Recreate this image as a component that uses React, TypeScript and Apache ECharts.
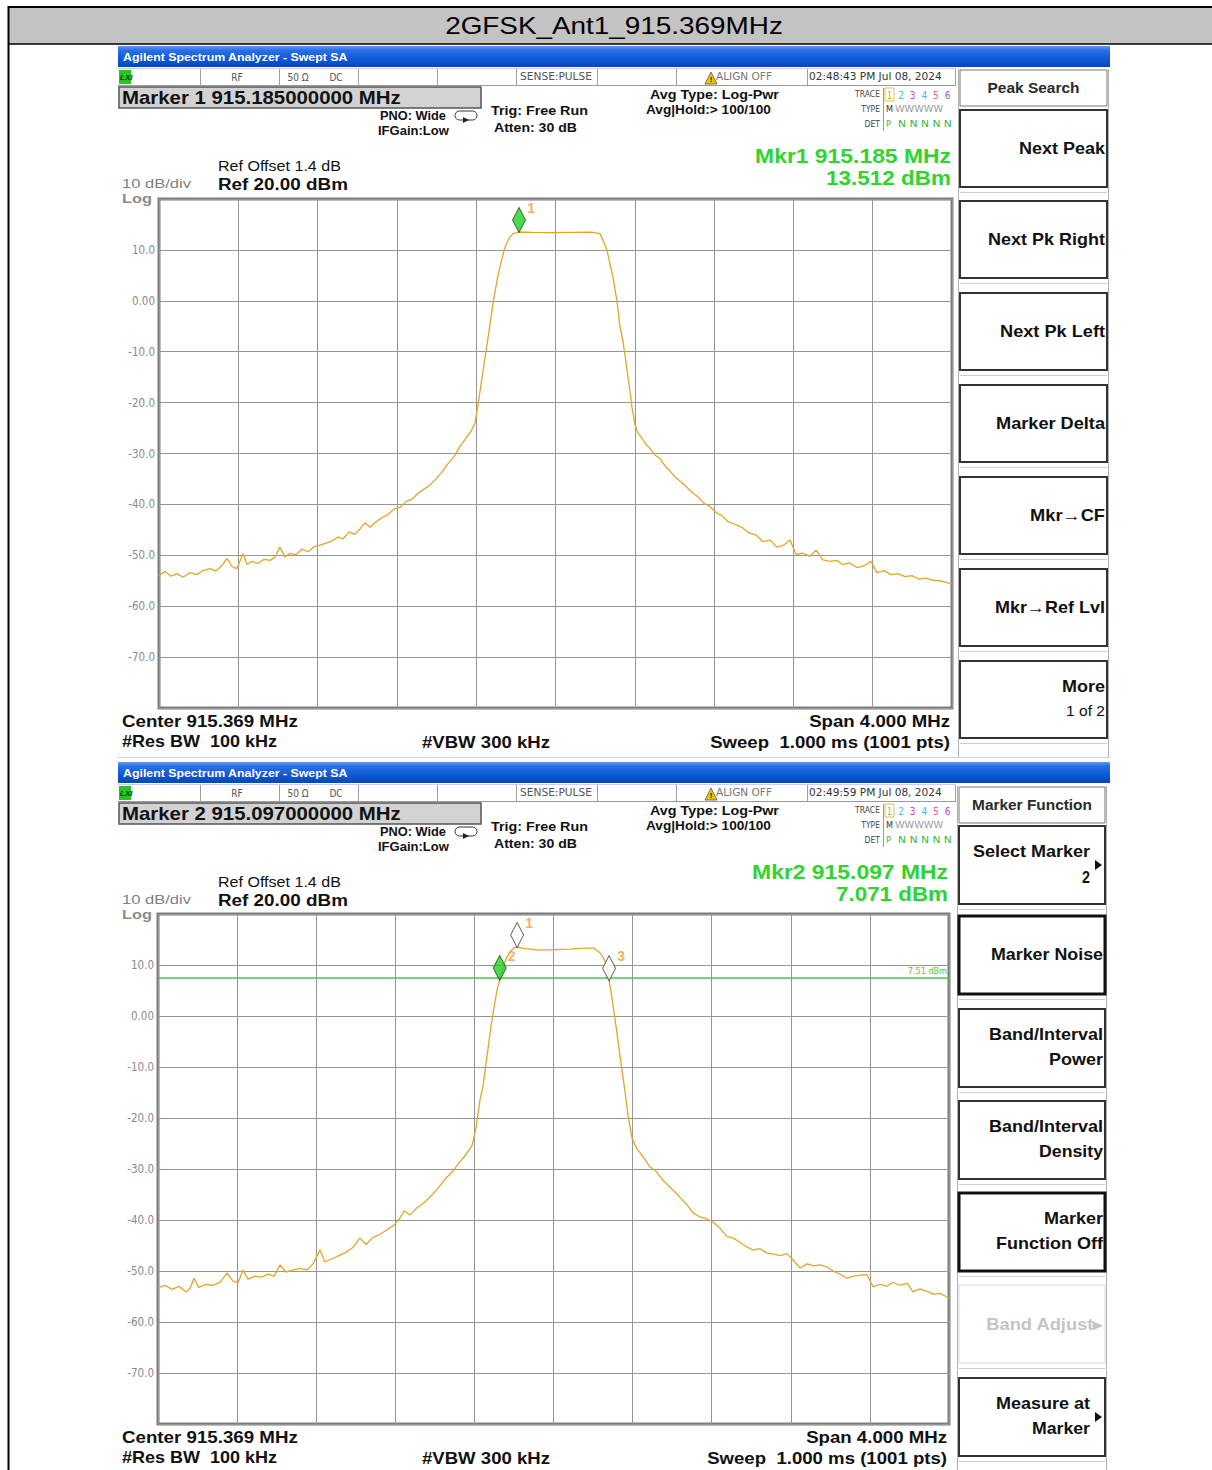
import React, { useEffect, useRef } from "react";
import * as echarts from "echarts";

// ---------------- DATA ----------------
const TITLE = "2GFSK_Ant1_915.369MHz";
const CENTER_MHZ = 915.369;
const SPAN_MHZ = 4;
const REF_DBM = 20;
const DB_PER_DIV = 10;
const DIVS = 10;

const yTickValues = [10, 0, -10, -20, -30, -40, -50, -60, -70];
const yTickLabels = ["10.0", "0.00", "-10.0", "-20.0", "-30.0", "-40.0", "-50.0", "-60.0", "-70.0"];

// Screen 1 trace (MHz, dBm)
const trace1Freq = [
  913.369, 913.399, 913.43, 913.46, 913.49, 913.525, 913.561, 913.591, 913.626, 913.657,
  913.687, 913.712, 913.737, 913.762, 913.793, 913.813, 913.838, 913.868, 913.899, 913.929,
  913.954, 913.979, 914.005, 914.03, 914.06, 914.09, 914.121, 914.151, 914.181, 914.211,
  914.242, 914.272, 914.297, 914.327, 914.358, 914.383, 914.408, 914.434, 914.464, 914.494,
  914.524, 914.555, 914.585, 914.615, 914.645, 914.676, 914.706, 914.736, 914.766, 914.797,
  914.827, 914.857, 914.887, 914.918, 914.943, 914.963, 914.978, 914.993, 915.008, 915.024,
  915.039, 915.054, 915.074, 915.094, 915.114, 915.135, 915.155, 915.185, 915.25, 915.35,
  915.45, 915.55, 915.593, 915.613, 915.629, 915.644, 915.659, 915.679, 915.694, 915.709,
  915.724, 915.74, 915.755, 915.77, 915.785, 915.805, 915.825, 915.846, 915.871, 915.896,
  915.921, 915.946, 915.971, 915.997, 916.027, 916.057, 916.087, 916.118, 916.148, 916.178,
  916.209, 916.239, 916.274, 916.309, 916.345, 916.38, 916.415, 916.451, 916.486, 916.521,
  916.552, 916.582, 916.617, 916.652, 916.683, 916.718, 916.753, 916.788, 916.819, 916.854,
  916.889, 916.925, 916.96, 916.99, 917.026, 917.061, 917.096, 917.132, 917.167, 917.202,
  917.237, 917.273, 917.308, 917.338, 917.369,
];
const trace1Level = [
  -54.0, -53.2, -54.1, -53.6, -54.3, -53.4, -53.8, -53.0, -52.6, -53.1,
  -52.0, -50.6, -52.2, -52.6, -49.7, -51.8, -51.2, -51.6, -50.8, -51.0,
  -50.4, -48.4, -50.3, -49.6, -49.9, -48.8, -49.3, -48.3, -48.0, -47.6,
  -47.2, -46.4, -46.8, -45.4, -45.9, -44.8, -43.6, -44.5, -43.4, -42.6,
  -42.0, -40.9, -40.6, -39.4, -39.0, -37.8, -37.0, -36.2, -35.0, -33.6,
  -32.0, -30.6, -28.6, -27.0, -25.6, -24.0, -20.5, -16.5, -12.5, -8.5,
  -4.5, -0.5, 4.0, 7.5, 10.5, 12.3, 13.2, 13.512, 13.45, 13.4,
  13.45, 13.5, 13.2, 11.5, 9.9, 7.2, 4.6, 0.0, -5.0, -7.8,
  -12.0, -16.5, -21.0, -24.3, -26.0, -27.0, -28.2, -29.0, -30.3, -31.0,
  -32.4, -33.4, -34.6, -35.4, -36.5, -37.6, -38.5, -39.8, -40.4, -41.6,
  -42.2, -43.4, -43.9, -44.5, -45.6, -46.0, -47.3, -47.0, -48.4, -48.0,
  -47.0, -49.8, -49.6, -50.2, -49.0, -50.9, -51.2, -51.0, -51.8, -51.5,
  -52.4, -52.1, -51.2, -53.4, -53.0, -53.8, -53.6, -54.2, -54.0, -54.7,
  -54.5, -54.9, -55.0, -55.3, -55.6,
];

// Screen 2 trace (MHz, dBm)
const trace2Freq = [
  913.369, 913.404, 913.44, 913.475, 913.511, 913.531, 913.551, 913.576, 913.612, 913.647,
  913.683, 913.718, 913.748, 913.774, 913.799, 913.824, 913.86, 913.895, 913.925, 913.956,
  913.986, 914.016, 914.052, 914.087, 914.122, 914.153, 914.188, 914.213, 914.249, 914.284,
  914.32, 914.355, 914.39, 914.421, 914.456, 914.492, 914.527, 914.562, 914.593, 914.613,
  914.643, 914.679, 914.714, 914.749, 914.785, 914.82, 914.856, 914.891, 914.926, 914.957,
  914.977, 914.997, 915.012, 915.027, 915.037, 915.053, 915.068, 915.083, 915.097, 915.114,
  915.134, 915.154, 915.17, 915.185, 915.225, 915.301, 915.377, 915.452, 915.528, 915.574,
  915.604, 915.624, 915.64, 915.65, 915.665, 915.685, 915.706, 915.726, 915.746, 915.766,
  915.791, 915.822, 915.857, 915.887, 915.918, 915.948, 915.984, 916.014, 916.044, 916.075,
  916.11, 916.145, 916.176, 916.211, 916.246, 916.282, 916.312, 916.348, 916.378, 916.413,
  916.449, 916.484, 916.514, 916.55, 916.58, 916.615, 916.651, 916.686, 916.716, 916.752,
  916.787, 916.817, 916.853, 916.888, 916.918, 916.954, 916.985, 917.02, 917.055, 917.086,
  917.121, 917.157, 917.187, 917.222, 917.258, 917.293, 917.324, 917.359, 917.369,
];
const trace2Level = [
  -53.3, -52.8, -53.6, -53.0, -54.1, -53.4, -51.4, -53.2, -52.6, -52.8,
  -52.2, -50.4, -52.0, -52.3, -49.8, -51.6, -51.0, -51.2, -50.6, -51.0,
  -48.8, -50.2, -49.8, -49.5, -49.8, -48.6, -45.9, -48.2, -47.6, -47.0,
  -46.3, -45.4, -43.5, -44.8, -43.4, -42.8, -41.9, -41.0, -39.6, -38.2,
  -39.0, -37.6, -36.6, -35.3, -33.8, -32.0, -30.6, -28.8, -27.2, -25.4,
  -22.0, -16.5, -13.9, -9.5, -6.7, -2.0, 1.6, 5.0, 7.071, 9.5,
  11.6, 12.8, 13.4, 13.512, 13.2, 12.9, 13.0, 13.1, 13.3, 13.3,
  12.4, 11.2, 9.6, 7.0, 3.5, -2.0, -8.0, -13.5, -19.5, -24.0,
  -26.0, -27.6, -29.6, -30.4, -32.0, -33.2, -34.5, -35.8, -37.0, -38.6,
  -39.4, -39.8, -40.4, -41.6, -43.2, -43.6, -44.4, -45.3, -45.9, -45.6,
  -46.5, -46.7, -47.0, -46.6, -47.8, -49.4, -48.6, -49.0, -48.8, -49.2,
  -50.1, -50.6, -51.4, -51.0, -50.8, -50.7, -53.1, -52.6, -53.0, -52.2,
  -52.8, -52.4, -54.1, -53.5, -54.0, -54.6, -54.4, -55.1, -55.3,
];

const markerNames1 = ["1"];
const markerFreq1 = [915.185];
const markerLevel1 = [13.512];
const markerActive1 = [true];

const markerNames2 = ["1", "2", "3"];
const markerFreq2 = [915.185, 915.097, 915.65];
const markerLevel2 = [13.512, 7.071, 7.0];
const markerActive2 = [false, true, false];

const displayLineDbm = 7.51;

const header1 = {
  marker: "Marker 1 915.185000000 MHz",
  time: "02:48:43 PM Jul 08, 2024",
  mkr: "Mkr1 915.185 MHz",
  mkrVal: "13.512 dBm",
};
const header2 = {
  marker: "Marker 2 915.097000000 MHz",
  time: "02:49:59 PM Jul 08, 2024",
  mkr: "Mkr2 915.097 MHz",
  mkrVal: "7.071 dBm",
};

const softTitle1 = "Peak Search";
const softkeys1 = [["Next Peak"], ["Next Pk Right"], ["Next Pk Left"], ["Marker Delta"], ["Mkr\u2192CF"], ["Mkr\u2192Ref Lvl"], ["More", "1 of 2"]];
const softTitle2 = "Marker Function";
const softkeys2 = [["Select Marker", "2"], ["Marker Noise"], ["Band/Interval", "Power"], ["Band/Interval", "Density"], ["Marker", "Function Off"], ["Band Adjust\u25B8"], ["Measure at", "Marker"]];

// ---------------- LAYOUT / STYLE ----------------
const FONT = '"Liberation Sans", Arial, sans-serif';
const NARROW = '"Liberation Sans Narrow", "DejaVu Sans Condensed", "Liberation Sans", sans-serif';
const GREEN = "#2fd42f";
const TRACE = "#e2a62c";

// target rendered widths (px) of the texts in the reference
const W1: Record<string, number> = {
  title: 338, bar: 225, marker: 279, pno: 66, ifg: 71, trig: 97, atten: 83, avg: 129, hold: 125,
  mkr: 196, ref1: 123, ref2: 130, div: 69, log: 30, center: 176, res: 155, vbw: 128, span: 141, sweep: 240,
  sense: 72, align: 56, time: 133,
};
const SOFT_W: Record<string, number> = {
  "Peak Search": 92, "Next Peak": 86, "Next Pk Right": 117, "Next Pk Left": 105, "Marker Delta": 109,
  "Mkr\u2192CF": 75, "Mkr\u2192Ref Lvl": 110, "More": 43, "1 of 2": 39,
  "Marker Function": 120, "Select Marker": 117, "2": 8, "Marker Noise": 112, "Band/Interval": 114, "Power": 54,
  "Density": 64, "Marker": 59, "Function Off": 107, "Band Adjust\u25B8": 117, "Measure at": 94,
};

let measureCtx: CanvasRenderingContext2D | null = null;
function measure(text: string, font: string) {
  if (!measureCtx) measureCtx = document.createElement("canvas").getContext("2d");
  if (!measureCtx) return 0;
  measureCtx.font = font;
  return measureCtx.measureText(text).width;
}

const blueGrad = new echarts.graphic.LinearGradient(0, 0, 0, 1, [
  { offset: 0, color: "#5b9cf6" },
  { offset: 0.2, color: "#2b6fe6" },
  { offset: 0.65, color: "#0c57d8" },
  { offset: 1, color: "#0a46b6" },
]);

function txt(text: string, x: number, y: number, font: string, fill = "#000", align = "left", v = "middle", width?: number) {
  let sx = 1;
  if (width) {
    const m = measure(text, font);
    if (m > 0) sx = Math.max(0.8, Math.min(1.35, width / m));
  }
  return { type: "text", x, y, scaleX: sx, silent: true, style: { text, font, fill, textAlign: align, textVerticalAlign: v } };
}
function ln(x1: number, y1: number, x2: number, y2: number, stroke: string, lw = 1) {
  return { type: "line", silent: true, shape: { x1, y1, x2, y2 }, style: { stroke, lineWidth: lw } };
}
function rc(x: number, y: number, w: number, h: number, style: any, r = 0) {
  return { type: "rect", silent: true, shape: { x, y, width: w, height: h, r }, style };
}

function screenHeader(dy: number, h: any, right: number, mkrValW: number) {
  const e: any[] = [];
  e.push(rc(118, 46 + dy, 992, 21, { fill: blueGrad }));
  e.push(txt("Agilent Spectrum Analyzer - Swept SA", 123, 57 + dy, `bold 11px ${FONT}`, "#ffffff", "left", "middle", W1.bar));
  // status row
  e.push(ln(118, 68.5 + dy, 956, 68.5 + dy, "#cfcfcf", 1));
  e.push(ln(118, 85.5 + dy, 956, 85.5 + dy, "#9a9a9a", 1));
  [200, 279, 358, 437, 516, 597, 676, 807, 955].forEach((x) => e.push(ln(x + 0.5, 69 + dy, x + 0.5, 85 + dy, "#a0a0a0", 1)));
  e.push(rc(119, 70 + dy, 12, 14, { fill: "#27c427" }));
  e.push(txt("LXI", 120, 77 + dy, `italic bold 8px ${FONT}`, "#0a3a0a"));
  e.push(txt("RF", 237, 77 + dy, `10px ${NARROW}`, "#555", "center"));
  e.push(txt("50 \u03A9", 298, 77 + dy, `10px ${NARROW}`, "#555", "center"));
  e.push(txt("DC", 336, 77 + dy, `10px ${NARROW}`, "#555", "center"));
  e.push(txt("SENSE:PULSE", 556, 77 + dy, `10px ${NARROW}`, "#555", "center", "middle", W1.sense));
  e.push({ type: "polygon", silent: true, shape: { points: [[705, 84 + dy], [711, 72 + dy], [717, 84 + dy]] }, style: { fill: "#e8c800", stroke: "#555", lineWidth: 0.8 } });
  e.push(txt("!", 711, 79.5 + dy, `bold 8px ${FONT}`, "#222", "center"));
  e.push(txt("ALIGN OFF", 744, 77 + dy, `10px ${NARROW}`, "#777", "center", "middle", W1.align));
  e.push(txt(h.time, 809, 77 + dy, `10.5px ${NARROW}`, "#333", "left", "middle", W1.time));
  // marker box
  e.push(rc(119, 87 + dy, 362, 21, { fill: "#d2d2d2", stroke: "#555", lineWidth: 1.5 }));
  e.push(txt(h.marker, 122, 98 + dy, `bold 18px ${FONT}`, "#111", "left", "middle", W1.marker));
  e.push(txt("PNO: Wide", 380, 116 + dy, `bold 12px ${FONT}`, "#111", "left", "middle", W1.pno));
  e.push(txt("IFGain:Low", 378, 131 + dy, `bold 12px ${FONT}`, "#111", "left", "middle", W1.ifg));
  e.push(rc(455, 111 + dy, 22, 9, { fill: "none", stroke: "#333", lineWidth: 1 }, 4.5));
  e.push({ type: "polygon", silent: true, shape: { points: [[463, 117 + dy], [469, 120 + dy], [463, 123 + dy]] }, style: { fill: "#222" } });
  e.push(txt("Trig: Free Run", 491, 111 + dy, `bold 13px ${FONT}`, "#111", "left", "middle", W1.trig));
  e.push(txt("Atten: 30 dB", 494, 128 + dy, `bold 13px ${FONT}`, "#111", "left", "middle", W1.atten));
  e.push(txt("Avg Type: Log-Pwr", 650, 95 + dy, `bold 13px ${FONT}`, "#111", "left", "middle", W1.avg));
  e.push(txt("Avg|Hold:> 100/100", 646, 110 + dy, `bold 13px ${FONT}`, "#111", "left", "middle", W1.hold));
  // trace table
  e.push(txt("TRACE", 880, 94 + dy, `8.5px ${NARROW}`, "#444", "right"));
  e.push(txt("TYPE", 880, 109 + dy, `8.5px ${NARROW}`, "#444", "right"));
  e.push(txt("DET", 880, 124 + dy, `8.5px ${NARROW}`, "#444", "right"));
  e.push(ln(883.5, 88 + dy, 883.5, 131 + dy, "#999", 1));
  e.push(rc(885, 88 + dy, 9, 13, { fill: "none", stroke: "#c8b040", lineWidth: 0.8 }));
  const tc = ["#d9b600", "#3cc3d8", "#d040c0", "#48b8e8", "#ee5a8a", "#b050d8"];
  ["1", "2", "3", "4", "5", "6"].forEach((s, i) => e.push(txt(s, 889.5 + i * 11.6, 95 + dy, `10px ${NARROW}`, tc[i], "center")));
  e.push(txt("M", 886, 109 + dy, `9px ${NARROW}`, "#333"));
  e.push(txt("WWWWW", 895, 109 + dy, `8px ${NARROW}`, "#9a9a9a", "left", "middle", 57));
  e.push(txt("P", 886, 124 + dy, `9px ${NARROW}`, "#3cb83c"));
  e.push(txt("N N N N N", 898, 124 + dy, `9px ${NARROW}`, "#3cb83c", "left", "middle", 54));
  // marker readout
  e.push(txt(h.mkr, right, 156 + dy, `bold 20px ${FONT}`, GREEN, "right", "middle", W1.mkr));
  e.push(txt(h.mkrVal, right, 178 + dy, `bold 20px ${FONT}`, GREEN, "right", "middle", mkrValW));
  // ref
  e.push(txt("Ref Offset 1.4 dB", 218, 166 + dy, `14px ${FONT}`, "#111", "left", "middle", W1.ref1));
  e.push(txt("Ref 20.00 dBm", 218, 184 + dy, `bold 17px ${FONT}`, "#111", "left", "middle", W1.ref2));
  e.push(txt("10 dB/div", 122, 184 + dy, `13px ${FONT}`, "#808080", "left", "middle", W1.div));
  e.push(txt("Log", 122, 198.5 + dy, `bold 13px ${FONT}`, "#8a8a8a", "left", "middle", W1.log));
  // bottom
  e.push(txt("Center 915.369 MHz", 122, 721 + dy, `bold 16px ${FONT}`, "#111", "left", "middle", W1.center));
  e.push(txt("#Res BW  100 kHz", 122, 742 + dy, `bold 16px ${FONT}`, "#111", "left", "middle", W1.res));
  e.push(txt("#VBW 300 kHz", 422, 742 + dy, `bold 16px ${FONT}`, "#111", "left", "middle", W1.vbw));
  e.push(txt("Span 4.000 MHz", right - 1, 721 + dy, `bold 16px ${FONT}`, "#111", "right", "middle", W1.span));
  e.push(txt("Sweep  1.000 ms (1001 pts)", right - 1, 742 + dy, `bold 16px ${FONT}`, "#111", "right", "middle", W1.sweep));
  return e;
}

function softPanel(title: string, titleY: number, keys: string[][], tops: number[], h: number, heavy: boolean[], dim: boolean[], arrows: boolean[], xL: number, xR: number, panelTop: number, panelBot: number) {
  const e: any[] = [];
  e.push(ln(xL - 1.5, panelTop, xL - 1.5, panelBot, "#b0b0b0", 1));
  e.push(ln(xR + 1.5, panelTop, xR + 1.5, panelBot, "#b0b0b0", 1));
  e.push(rc(xL, panelTop + 1, xR - xL, titleY * 2 - 2 * (panelTop + 1), { fill: "#fff", stroke: "#777", lineWidth: 1 }));
  e.push(txt(title, (xL + xR) / 2, titleY, `bold 14px ${FONT}`, "#2a2a2a", "center", "middle", SOFT_W[title]));
  keys.forEach((lines, i) => {
    const t = tops[i];
    if (dim[i]) {
      e.push(rc(xL, t, xR - xL, h, { fill: "#fff", stroke: "#d8d8d8", lineWidth: 1 }));
    } else {
      e.push(rc(xL, t, xR - xL, h, { fill: "#fff", stroke: heavy[i] ? "#111" : "#333", lineWidth: heavy[i] ? 3 : 2 }));
    }
    e.push(ln(xL, t + h + 5.5, xR, t + h + 5.5, "#cfcfcf", 1));
    const rx = arrows[i] ? xR - 15 : xR - 2;
    const font = `bold 16px ${FONT}`;
    if (lines.length === 1) {
      e.push(txt(lines[0], rx, t + h / 2, font, dim[i] ? "#c4c4c4" : "#111", "right", "middle", SOFT_W[lines[0]]));
    } else {
      const second = lines[1];
      const smallSecond = second === "1 of 2";
      e.push(txt(lines[0], rx, t + h / 2 - 13, font, "#111", "right", "middle", SOFT_W[lines[0]]));
      const w2 = second === "Marker" ? 58 : SOFT_W[second];
      e.push(txt(second, rx, t + h / 2 + 12, smallSecond ? `14px ${FONT}` : font, "#111", "right", "middle", w2));
    }
    if (arrows[i]) {
      const ay = t + h / 2;
      e.push({ type: "polygon", silent: true, shape: { points: [[xR - 10, ay - 5], [xR - 3, ay], [xR - 10, ay + 5]] }, style: { fill: "#111" } });
    }
  });
  return e;
}

function buildGraphics() {
  const g: any[] = [];
  // outer table & title
  g.push(rc(8, 7, 1210, 37, { fill: "#c3c3c3" }));
  g.push(ln(8, 7, 1212, 7, "#000", 2));
  g.push(ln(8, 44, 1212, 44, "#000", 1.5));
  g.push(ln(8.5, 6, 8.5, 1470, "#000", 2));
  g.push(txt(TITLE, 614, 26, `24px ${FONT}`, "#000", "center", "middle", W1.title));

  g.push(...screenHeader(0, header1, 951, 125));
  g.push(...screenHeader(716, header2, 948, 112));
  g.push(ln(118, 757.5, 1110, 757.5, "#cfcfcf", 1));

  g.push(...softPanel(softTitle1, 88, softkeys1, [110, 201, 293, 385, 477, 569, 661], 77,
    [false, false, false, false, false, false, false], [false, false, false, false, false, false, false],
    [false, false, false, false, false, false, false], 960, 1107, 69, 757));
  g.push(...softPanel(softTitle2, 805, softkeys2, [826, 916, 1009, 1101, 1193, 1285, 1378], 78,
    [false, true, false, false, true, false, false], [false, false, false, false, false, true, false],
    [true, false, false, false, false, false, true], 959, 1105, 786, 1470));
  return g;
}

function yFmt(v: number) {
  const i = yTickValues.indexOf(Math.round(v));
  return i >= 0 ? yTickLabels[i] : "";
}

function markerData(names: string[], freqs: number[], levels: number[], active: boolean[]) {
  return names.map((n, i) => ({
    name: n,
    value: [freqs[i] - CENTER_MHZ, levels[i]],
    itemStyle: active[i]
      ? { color: "#1fd11f", borderColor: "#0b4d0b", borderWidth: 1 }
      : { color: "#ffffff", borderColor: "#333333", borderWidth: 1 },
  }));
}

function buildOption() {
  const half = SPAN_MHZ / 2;
  const div = SPAN_MHZ / DIVS;
  const grids = [
    { left: 159, top: 199, width: 793, height: 509 },
    { left: 158, top: 914, width: 791, height: 510 },
  ];
  const mkAxisX = (gi: number) => ({
    type: "value", gridIndex: gi, min: -half, max: half, interval: div,
    axisLine: { show: false }, axisTick: { show: false }, axisLabel: { show: false },
    splitLine: { show: true, lineStyle: { color: "#959595", width: 1 } },
  });
  const mkAxisY = (gi: number) => ({
    type: "value", gridIndex: gi, min: REF_DBM - DB_PER_DIV * DIVS, max: REF_DBM, interval: DB_PER_DIV,
    axisLine: { show: false }, axisTick: { show: false },
    axisLabel: { show: true, formatter: yFmt, color: "#8a8a8a", fontSize: 11.5, fontFamily: NARROW, margin: 4 },
    splitLine: { show: true, lineStyle: { color: "#959595", width: 1 } },
  });
  const markerSeries = (gi: number, data: any[]) => ({
    type: "scatter", xAxisIndex: gi, yAxisIndex: gi, z: 6,
    symbol: "diamond", symbolSize: [13, 25], symbolOffset: [0, -12],
    data,
    label: { show: true, formatter: "{b}", position: [15, -6], color: "#f0a030", fontSize: 14, fontWeight: "bold", fontFamily: FONT },
  });
  return {
    animation: false,
    backgroundColor: "#ffffff",
    grid: grids.map((g) => ({ ...g, show: true, borderColor: "#7c7c7c", borderWidth: 3, backgroundColor: "#ffffff" })),
    xAxis: [mkAxisX(0), mkAxisX(1)],
    yAxis: [mkAxisY(0), mkAxisY(1)],
    graphic: { elements: buildGraphics() },
    series: [
      {
        type: "line", xAxisIndex: 0, yAxisIndex: 0, symbol: "none", z: 3,
        lineStyle: { color: TRACE, width: 1.3 },
        data: trace1Freq.map((f, i) => [f - CENTER_MHZ, trace1Level[i]]),
      },
      {
        type: "line", xAxisIndex: 1, yAxisIndex: 1, symbol: "none", z: 3,
        lineStyle: { color: TRACE, width: 1.3 },
        data: trace2Freq.map((f, i) => [f - CENTER_MHZ, trace2Level[i]]),
        markLine: {
          silent: true, symbol: "none",
          lineStyle: { color: "#45cc45", width: 1.5, type: "solid" },
          label: { show: true, position: "insideEndTop", formatter: `${displayLineDbm} dBm`, color: "#45cc45", fontSize: 9, fontFamily: NARROW, distance: 2 },
          data: [{ yAxis: displayLineDbm }],
        },
      },
      markerSeries(0, markerData(markerNames1, markerFreq1, markerLevel1, markerActive1)),
      markerSeries(1, markerData(markerNames2, markerFreq2, markerLevel2, markerActive2)),
    ],
  };
}

export default function App() {
  const ref = useRef<HTMLDivElement>(null);
  useEffect(() => {
    if (!ref.current) return;
    const chart = echarts.init(ref.current, undefined, { renderer: "svg" });
    chart.setOption(buildOption() as any);
    return () => chart.dispose();
  }, []);
  return <div ref={ref} style={{ position: "absolute", left: 0, top: 0, width: 1212, height: 1470, background: "#fff" }} />;
}
